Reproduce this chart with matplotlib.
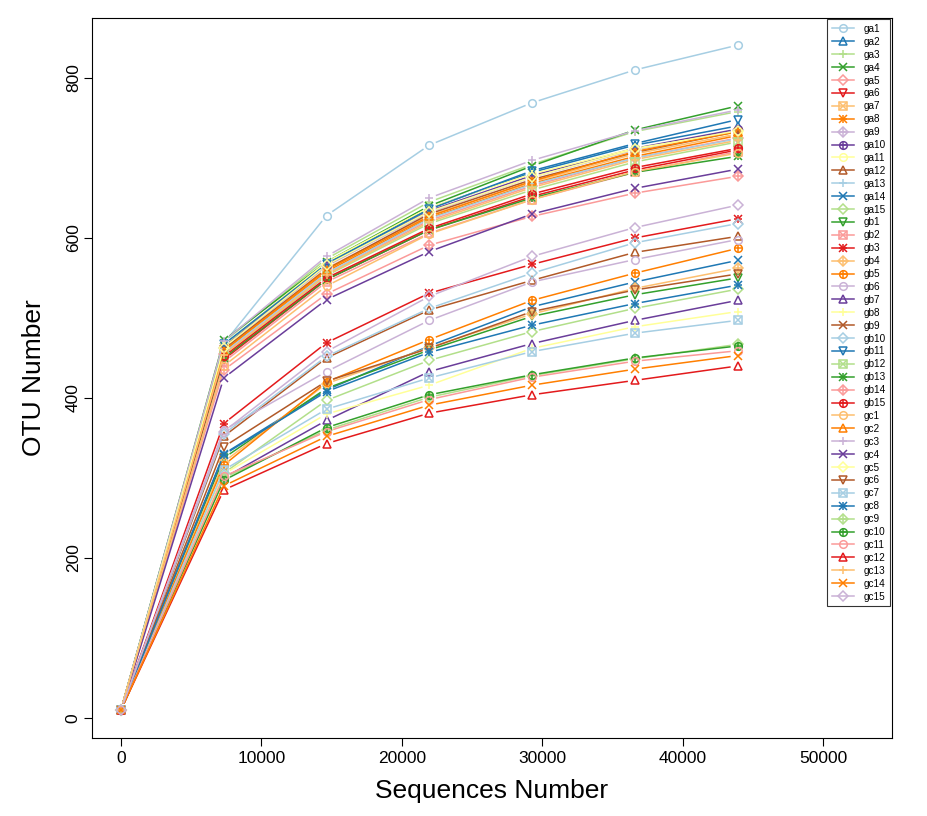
import numpy as np
import matplotlib
matplotlib.use("Agg")
from matplotlib import pyplot as plt
from matplotlib.lines import Line2D
from matplotlib.collections import LineCollection
from matplotlib.legend_handler import HandlerTuple

plt.rcParams['font.family'] = ['Liberation Sans', 'DejaVu Sans']

# sequencing depth (x) and OTU counts per sample
depth = [0, 7320, 14640, 21960, 29280, 36600, 43920]

samples = ['ga1', 'ga2', 'ga3', 'ga4', 'ga5', 'ga6', 'ga7', 'ga8', 'ga9', 'ga10',
           'ga11', 'ga12', 'ga13', 'ga14', 'ga15',
           'gb1', 'gb2', 'gb3', 'gb4', 'gb5', 'gb6', 'gb7', 'gb8', 'gb9', 'gb10',
           'gb11', 'gb12', 'gb13', 'gb14', 'gb15',
           'gc1', 'gc2', 'gc3', 'gc4', 'gc5', 'gc6', 'gc7', 'gc8', 'gc9', 'gc10',
           'gc11', 'gc12', 'gc13', 'gc14', 'gc15']

otu = {
    'ga1':  [10, 468, 628, 716, 769, 810, 841],
    'ga2':  [10, 466, 568, 637, 682, 716, 740],
    'ga3':  [10, 470, 574, 645, 692, 733, 758],
    'ga4':  [10, 472, 570, 640, 690, 735, 765],
    'ga5':  [10, 455, 555, 622, 665, 700, 725],
    'ga6':  [10, 448, 548, 610, 652, 685, 710],
    'ga7':  [10, 460, 562, 628, 670, 705, 730],
    'ga8':  [10, 458, 558, 625, 668, 702, 728],
    'ga9':  [10, 462, 565, 632, 676, 710, 735],
    'ga10': [10, 464, 566, 634, 678, 712, 736],
    'ga11': [10, 466, 570, 638, 680, 712, 732],
    'ga12': [10, 352, 450, 510, 547, 582, 602],
    'ga13': [10, 457, 556, 624, 667, 700, 724],
    'ga14': [10, 330, 410, 465, 514, 545, 572],
    'ga15': [10, 306, 397, 447, 483, 512, 536],
    'gb1':  [10, 325, 412, 460, 502, 529, 550],
    'gb2':  [10, 445, 545, 606, 648, 682, 708],
    'gb3':  [10, 368, 469, 531, 567, 600, 624],
    'gb4':  [10, 320, 418, 463, 505, 537, 562],
    'gb5':  [10, 316, 420, 473, 522, 556, 587],
    'gb6':  [10, 360, 433, 497, 545, 573, 598],
    'gb7':  [10, 300, 372, 433, 468, 497, 522],
    'gb8':  [10, 305, 380, 416, 462, 489, 508],
    'gb9':  [10, 461, 561, 630, 673, 707, 733],
    'gb10': [10, 355, 452, 512, 556, 594, 618],
    'gb11': [10, 467, 567, 636, 684, 718, 748],
    'gb12': [10, 453, 553, 618, 660, 695, 720],
    'gb13': [10, 450, 548, 610, 650, 682, 702],
    'gb14': [10, 435, 530, 591, 627, 656, 677],
    'gb15': [10, 452, 550, 612, 655, 688, 712],
    'gc1':  [10, 440, 540, 605, 648, 683, 706],
    'gc2':  [10, 459, 560, 627, 671, 708, 733],
    'gc3':  [10, 471, 577, 650, 697, 734, 760],
    'gc4':  [10, 425, 523, 583, 630, 662, 686],
    'gc5':  [10, 463, 566, 633, 676, 711, 734],
    'gc6':  [10, 339, 421, 462, 508, 535, 555],
    'gc7':  [10, 310, 386, 425, 458, 481, 497],
    'gc8':  [10, 329, 408, 457, 491, 518, 541],
    'gc9':  [10, 300, 360, 401, 428, 449, 467],
    'gc10': [10, 297, 363, 404, 429, 450, 465],
    'gc11': [10, 302, 358, 398, 426, 446, 459],
    'gc12': [10, 285, 343, 381, 404, 422, 440],
    'gc13': [10, 454, 554, 620, 663, 698, 722],
    'gc14': [10, 290, 352, 391, 416, 436, 453],
    'gc15': [10, 358, 458, 527, 577, 613, 641],
}

# RColorBrewer "Paired"
palette = ['#A6CEE3', '#1F78B4', '#B2DF8A', '#33A02C', '#FB9A99', '#E31A1C',
           '#FDBF6F', '#FF7F00', '#CAB2D6', '#6A3D9A', '#FFFF99', '#B15928']
# R pch 1..10 -> matplotlib marker layers
pch = [['o'], ['^'], ['+'], ['x'], ['D'], ['v'], ['s', 'x'], ['+', 'x'],
       ['D', '+'], ['o', '+']]

fig = plt.figure(figsize=(9.27, 8.16), dpi=100)
ax = fig.add_axes([0.0992, 0.0956, 0.8630, 0.8824])
ax.set_xlim(-2066, 54915)
ax.set_ylim(-25, 875)


def gapped(x, y, gap=7.0):
    # type="b" look: segments stop short of the points
    pts = ax.transData.transform(np.column_stack([x, y]))
    inv = ax.transData.inverted()
    segs = []
    for i in range(len(pts) - 1):
        d = pts[i + 1] - pts[i]
        L = np.hypot(*d)
        if L <= 2 * gap:
            continue
        u = d / L
        segs.append(inv.transform([pts[i] + u * gap, pts[i + 1] - u * gap]))
    return segs


handles = []
for i, name in enumerate(samples):
    col = palette[i % 12]
    mk = pch[i % 10]
    y = otu[name]
    ax.add_collection(LineCollection(gapped(depth, y), colors=col, linewidths=1.1))
    parts = []
    for j, m in enumerate(mk):
        sz = 5.5 if m in ('o', '^', 'v', 's') else (4.8 if m == 'D' else 6)
        ax.plot(depth, y, ls='none', marker=m, ms=sz, mfc='none', mec=col, mew=1.1)
        if j == 0:
            parts.append(Line2D([], [], color=col, lw=1.1, marker=m, ms=sz,
                                mfc='none', mec=col, mew=1.1))
        else:
            parts.append(Line2D([], [], ls='none', marker=m, ms=sz,
                                mfc='none', mec=col, mew=1.1))
    handles.append(tuple(parts))

ax.set_xticks([0, 10000, 20000, 30000, 40000, 50000])
ax.set_yticks([0, 200, 400, 600, 800])
ax.tick_params(labelsize=12.5, length=6, width=0.8, direction='out')
ax.tick_params(axis='y', pad=2)
for lab in ax.get_yticklabels():
    lab.set_rotation(90)
    lab.set_va('center')
ax.set_xlabel('Sequences Number', fontsize=19, labelpad=9)
ax.set_ylabel('OTU Number', fontsize=19, labelpad=14)
for sp in ax.spines.values():
    sp.set_linewidth(0.8)

leg = ax.legend(handles, samples, loc='upper right', fontsize=7.2,
                handler_map={tuple: HandlerTuple(ndivide=1, pad=0)},
                borderaxespad=0.15, labelspacing=0.29, handlelength=2.2,
                handletextpad=1.0, frameon=True, fancybox=False,
                borderpad=0.45)
leg.get_frame().set_edgecolor('black')
leg.get_frame().set_linewidth(0.8)

fig.savefig('out.png', dpi=100)
